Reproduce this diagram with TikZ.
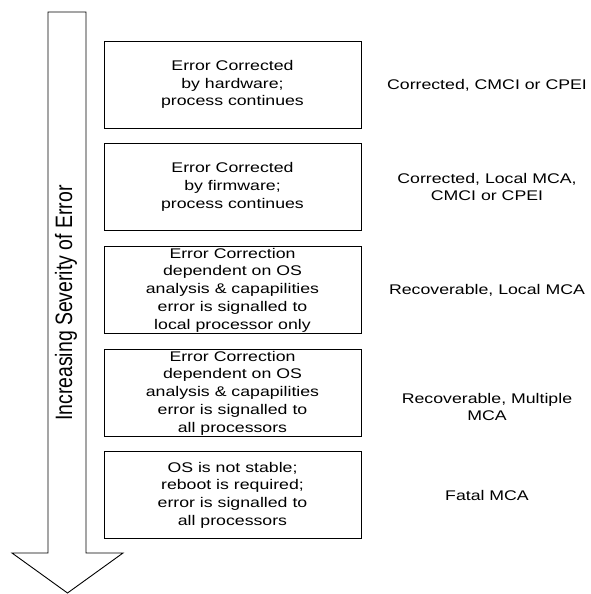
\documentclass[tikz,border=0pt]{standalone}
\usepackage{fontspec}
\setmainfont{Liberation Sans}
\newfontfamily\boxfont[FakeStretch=1.265]{Liberation Sans}
\newfontfamily\axisfont[FakeStretch=0.82]{Liberation Sans}
\begin{document}
\begin{tikzpicture}[x=1pt,y=-1pt,
  box/.style={draw=black, line width=0.9pt, minimum width=257pt, minimum height=87pt,
    align=center, inner sep=0pt, font=\boxfont\fontsize{14}{17.7}\selectfont},
  lbl/.style={align=center, inner sep=0pt, font=\boxfont\fontsize{14}{17.7}\selectfont},
  bigarrow/.style={draw=black, line width=0.9pt, line join=miter, fill=white}]
\useasboundingbox (0,0) rectangle (591,594);
\fill[white] (0,0) rectangle (591,594);
% big arrow
\draw[bigarrow] (48,12) -- (86,12) -- (86,553) -- (123,553) -- (67.5,593) -- (12,553) -- (48,553) -- cycle;
\node[rotate=90, anchor=base west, inner sep=0pt, font=\axisfont\fontsize{23.7}{26}\selectfont] (axis) at (72,421) {Increasing Severity of Error};
% boxes
\node[box] (b1) at (232.5,84.5) {Error Corrected\\by hardware;\\process continues};
\node[box] (b2) at (232.5,187) {Error Corrected\\by firmware;\\process continues};
\node[box] (b3) at (232.5,290) {Error Correction\\dependent on OS\\analysis \& capapilities\\error is signalled to\\local processor only};
\node[box] (b4) at (232.5,393) {Error Correction\\dependent on OS\\analysis \& capapilities\\error is signalled to\\all processors};
\node[box] (b5) at (232.5,495) {OS is not stable;\\reboot is required;\\error is signalled to\\all processors};
% labels
\node[lbl] (l1) at (487,85) {Corrected, CMCI or CPEI};
\node[lbl] (l2) at (487,187) {Corrected, Local MCA,\\CMCI or CPEI};
\node[lbl] (l3) at (487,290) {Recoverable, Local MCA};
\node[lbl] (l4) at (487,407) {Recoverable, Multiple\\MCA};
\node[lbl] (l5) at (487,495) {Fatal MCA};
\end{tikzpicture}
\end{document}
